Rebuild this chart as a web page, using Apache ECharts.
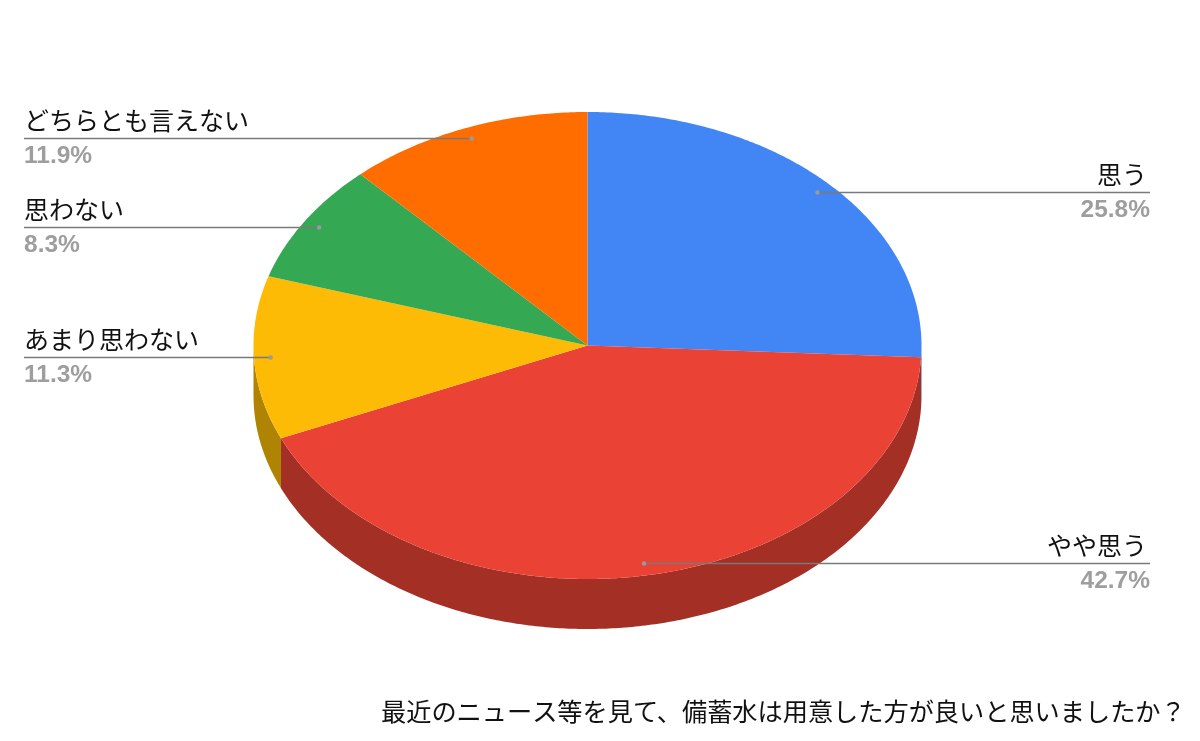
<!DOCTYPE html>
<html>
<head>
<meta charset="utf-8">
<style>html,body{margin:0;padding:0;background:#fff}#c{width:1200px;height:741px}</style>
<script src="https://cdn.jsdelivr.net/npm/echarts@6/dist/echarts.min.js"></script>
</head>
<body>
<div id="c"></div>
<script>
const titleText = '最近のニュース等を見て、備蓄水は用意した方が良いと思いましたか？';
const categories = ['思う', 'やや思う', 'あまり思わない', '思わない', 'どちらとも言えない'];
const values = [25.8, 42.7, 11.3, 8.3, 11.9];
const topColors = ['#4285F4', '#EA4335', '#FDBB05', '#34A853', '#FF6D01'];
const sideColors = ['#2E5DAB', '#A32F25', '#B08403', '#247538', '#B34C01'];

const CX = 587.5, CY = 345.5, RX = 334, RY = 233.5, DEPTH = 50;
const ANCHOR = 0.95, LEFT_X = 24, RIGHT_X = 1150;
const FONT = '"Liberation Sans","Noto Sans CJK JP",sans-serif';
const total = values.reduce((a, b) => a + b, 0);
const starts = [];
values.reduce((acc, v, i) => { starts[i] = acc; return acc + v; }, 0);
const ang = p => p / total * 2 * Math.PI;
const pt = (a, k, dy) => [CX + Math.sin(a) * RX * k, CY - Math.cos(a) * RY * k + (dy || 0)];
function arc(a0, a1, dy) {
  const n = Math.max(2, Math.ceil((a1 - a0) / 0.01)), out = [];
  for (let i = 0; i <= n; i++) out.push(pt(a0 + (a1 - a0) * i / n, 1, dy));
  return out;
}
const sideItem = (params, api) => {
  const i = params.dataIndex;
  const a0 = Math.max(ang(starts[i]), Math.PI / 2);
  const a1 = Math.min(ang(starts[i] + api.value(0)), Math.PI * 1.5);
  if (a1 <= a0) return null;
  const pts = arc(a0, a1, 0).concat(arc(a0, a1, DEPTH).reverse());
  return { type: 'polygon', shape: { points: pts }, style: { fill: sideColors[i] } };
};
const topItem = (params, api) => {
  const i = params.dataIndex;
  const a0 = ang(starts[i]), a1 = ang(starts[i] + api.value(0));
  return { type: 'polygon', shape: { points: [[CX, CY]].concat(arc(a0, a1, 0)) }, style: { fill: topColors[i] } };
};
const labelItem = (params, api) => {
  const i = params.dataIndex, v = api.value(0);
  const mid = ang(starts[i] + v / 2);
  const p = pt(mid, ANCHOR);
  const right = Math.sin(mid) > 0;
  const x = right ? RIGHT_X : LEFT_X;
  const align = right ? 'right' : 'left';
  const y = Math.floor(p[1]) + 0.5;
  return {
    type: 'group',
    children: [
      { type: 'line', shape: { x1: p[0], y1: y, x2: x, y2: y }, style: { stroke: '#7A7A7A', lineWidth: 1.4 } },
      { type: 'circle', shape: { cx: p[0], cy: y, r: 2.2 }, style: { fill: '#9A9A9A' } },
      { type: 'text', x: right ? x - 3 : x, y: y - 15.5, style: { text: categories[i], fill: '#111111', font: '25px ' + FONT, align: align, verticalAlign: 'middle' } },
      { type: 'text', x: x, y: y + 18, style: { text: v.toFixed(1) + '%', fill: '#9E9E9E', font: 'bold 24.5px ' + FONT, align: align, verticalAlign: 'middle' } }
    ]
  };
};
const chart = echarts.init(document.getElementById('c'), null, { renderer: 'canvas' });
const data = values.map((v, i) => ({ name: categories[i], value: [v] }));
const base = { type: 'custom', coordinateSystem: 'none', data: data, silent: true, animation: false, clip: false };
chart.setOption({
  animation: false,
  backgroundColor: '#ffffff',
  title: { text: titleText, left: 376, top: 696, textStyle: { fontFamily: FONT, fontSize: 25.2, fontWeight: 'normal', color: '#111111' } },
  series: [
    Object.assign({}, base, { z: 1, renderItem: sideItem }),
    Object.assign({}, base, { z: 2, renderItem: topItem }),
    Object.assign({}, base, { z: 3, renderItem: labelItem })
  ]
});
</script>
</body>
</html>
